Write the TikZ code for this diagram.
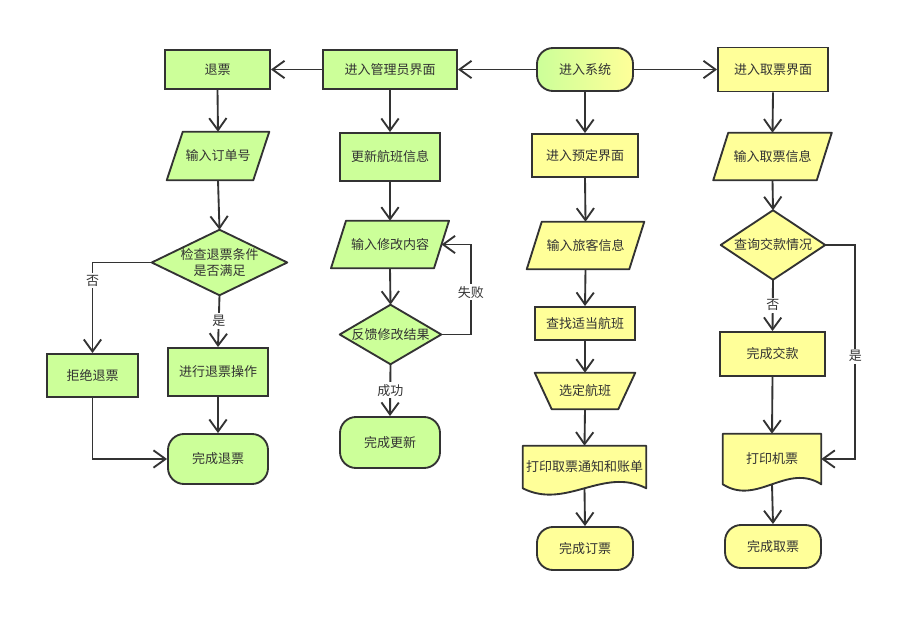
\documentclass[tikz,border=0pt]{standalone}
\usepackage{fontspec}
\newfontfamily\cjk{Noto Sans CJK SC}
\usetikzlibrary{arrows.meta,calc,backgrounds}
\definecolor{ln}{HTML}{333333}
\definecolor{gr}{HTML}{CCFF99}
\definecolor{ye}{HTML}{FFFF99}
\def\u{0.75pt}
\tikzset{
  base/.style={inner sep=0pt, text=ln},
  proc/.style={base, draw=ln, line width=1.4pt},
  term/.style={base, draw=ln, line width=1.4pt, rounded corners=12pt},
  ghost/.style={base},
  shp/.style={draw=ln, line width=1.4pt, line join=round},
  arr/.style={draw=ln, line width=1.4pt, -{Straight Barb[length=9pt,width=13pt]}},
  lbl/.style={fill=white, inner sep=1.5pt, text=ln}
}
\begin{document}
\begin{tikzpicture}[x=0.75pt,y=-0.75pt,font=\fontsize{9.75pt}{12pt}\cjk]
\useasboundingbox (0,0) rectangle (916,631);
% top row
\node[term, left color=gr, right color=ye, minimum width=96*\u, minimum height=43*\u] (sys) at (585,69.5) {进入系统};
\node[proc, fill=gr, minimum width=134*\u, minimum height=39*\u] (adm) at (390,69.5) {进入管理员界面};
\node[proc, fill=gr, minimum width=105*\u, minimum height=39*\u] (tui) at (217.5,69.5) {退票};
\node[proc, fill=ye, minimum width=110*\u, minimum height=44*\u] (pick) at (773,69.5) {进入取票界面};
% row 2
\node[ghost, minimum width=86*\u, minimum height=48*\u] (p1) at (218,156) {输入订单号};
\node[proc, fill=gr, minimum width=100*\u, minimum height=48*\u] (upd) at (390,157) {更新航班信息};
\node[proc, fill=ye, minimum width=106*\u, minimum height=43*\u] (book) at (585,155.5) {进入预定界面};
\node[ghost, minimum width=103*\u, minimum height=47*\u] (p4) at (772.5,156.5) {输入取票信息};
% row 3
\node[ghost, minimum width=135*\u, minimum height=65*\u, align=center] (d1) at (219.5,262.5) {检查退票条件\\是否满足};
\node[ghost, minimum width=102.5*\u, minimum height=47*\u] (p2) at (390,244.5) {输入修改内容};
\node[ghost, minimum width=102*\u, minimum height=47*\u] (p3) at (585.5,245.5) {输入旅客信息};
\node[ghost, minimum width=104*\u, minimum height=69*\u] (d3) at (773,245) {查询交款情况};
\node[ghost, minimum width=101*\u, minimum height=59*\u] (d2) at (390.5,334.5) {反馈修改结果};
% row 4
\node[proc, fill=gr, minimum width=91*\u, minimum height=43*\u] (rej) at (92.5,375.5) {拒绝退票};
\node[proc, fill=gr, minimum width=100*\u, minimum height=48*\u] (do) at (218,372) {进行退票操作};
\node[proc, fill=ye, minimum width=100*\u, minimum height=33*\u] (find) at (585,323.5) {查找适当航班};
\node[proc, fill=ye, minimum width=105*\u, minimum height=44*\u] (pay) at (772.5,354) {完成交款};
\node[ghost, minimum width=100*\u, minimum height=36*\u] (sel) at (585,391) {选定航班};
% terminals
\node[term, fill=gr, minimum width=100*\u, minimum height=50*\u] (done1) at (218,459) {完成退票};
\node[term, fill=gr, minimum width=100*\u, minimum height=51*\u] (done2) at (390,442.5) {完成更新};
\node[term, fill=ye, minimum width=96*\u, minimum height=43*\u] (done3) at (585,548.5) {完成订票};
\node[term, fill=ye, minimum width=96*\u, minimum height=43*\u] (done4) at (773,546.5) {完成取票};
% documents
\node[ghost, minimum width=123*\u, minimum height=42*\u] (doc1) at (584.5,467) {打印取票通知和账单};
\node[ghost, minimum width=98*\u, minimum height=50*\u] (doc2) at (772,459) {打印机票};

\begin{pgfonlayer}{background}
% parallelograms
\path[shp, fill=gr] ($(p1.north west)+(8,0)$) -- ($(p1.north east)+(8,0)$) -- ($(p1.south east)-(8,0)$) -- ($(p1.south west)-(8,0)$) -- cycle;
\path[shp, fill=gr] ($(p2.north west)+(7.5,0)$) -- ($(p2.north east)+(7.5,0)$) -- ($(p2.south east)-(7.5,0)$) -- ($(p2.south west)-(7.5,0)$) -- cycle;
\path[shp, fill=ye] ($(p3.north west)+(7.5,0)$) -- ($(p3.north east)+(7.5,0)$) -- ($(p3.south east)-(7.5,0)$) -- ($(p3.south west)-(7.5,0)$) -- cycle;
\path[shp, fill=ye] ($(p4.north west)+(7.5,0)$) -- ($(p4.north east)+(7.5,0)$) -- ($(p4.south east)-(7.5,0)$) -- ($(p4.south west)-(7.5,0)$) -- cycle;
% diamonds
\path[shp, fill=gr] (d1.north) -- (d1.east) -- (d1.south) -- (d1.west) -- cycle;
\path[shp, fill=gr] (d2.north) -- (d2.east) -- (d2.south) -- (d2.west) -- cycle;
\path[shp, fill=ye] (d3.north) -- (d3.east) -- (d3.south) -- (d3.west) -- cycle;
% trapezoid
\path[shp, fill=ye] (sel.north west) -- (sel.north east) -- ($(sel.south east)-(17,0)$) -- ($(sel.south west)+(17,0)$) -- cycle;
% documents
\path[shp, fill=ye] (doc1.north west) -- (doc1.north east) -- (doc1.south east)
  .. controls ($(doc1.south west)!0.65!(doc1.south east)+(0,-22)$) and ($(doc1.south west)!0.35!(doc1.south east)+(0,22)$) .. (doc1.south west) -- cycle;
\path[shp, fill=ye] (doc2.north west) -- (doc2.north east) -- (doc2.south east)
  .. controls ($(doc2.south west)!0.65!(doc2.south east)+(0,-22)$) and ($(doc2.south west)!0.35!(doc2.south east)+(0,22)$) .. (doc2.south west) -- cycle;
\end{pgfonlayer}

% connectors
\draw[arr] (sys.west) -- (adm.east);
\draw[arr] (sys.east) -- (pick.west);
\draw[arr] (sys.south) -- (book.north);
\draw[arr] (adm.west) -- (tui.east);
\draw[arr] (adm.south) -- (upd.north);
\draw[arr] (tui.south) -- (p1.north);
\draw[arr] (p1.south) -- (d1.north);
\draw[arr] (d1.south) -- node[lbl]{是} (do.north);
\draw[arr] (d1.west) -| node[lbl, pos=0.6]{否} (rej.north);
\draw[arr] (rej.south) |- (done1.west);
\draw[arr] (do.south) -- (done1.north);
\draw[arr] (upd.south) -- (p2.north);
\draw[arr] (p2.south) -- (d2.north);
\draw[arr] (d2.east) -- ++(29.5,0) |- node[lbl, pos=0.235]{失败} (p2.east);
\draw[arr] (d2.south) -- node[lbl]{成功} (done2.north);
\draw[arr] (book.south) -- (p3.north);
\draw[arr] (p3.south) -- (find.north);
\draw[arr] (find.south) -- (sel.north);
\draw[arr] (sel.south) -- (doc1.north);
\draw[arr] (doc1.south) -- (done3.north);
\draw[arr] (pick.south) -- (p4.north);
\draw[arr] (p4.south) -- (d3.north);
\draw[arr] (d3.south) -- node[lbl]{否} (pay.north);
\draw[arr] (pay.south) -- (doc2.north);
\draw[arr] (doc2.south) -- (done4.north);
\draw[arr] (d3.east) -- ++(30,0) |- node[lbl, pos=0.26]{是} (doc2.east);
\end{tikzpicture}
\end{document}
